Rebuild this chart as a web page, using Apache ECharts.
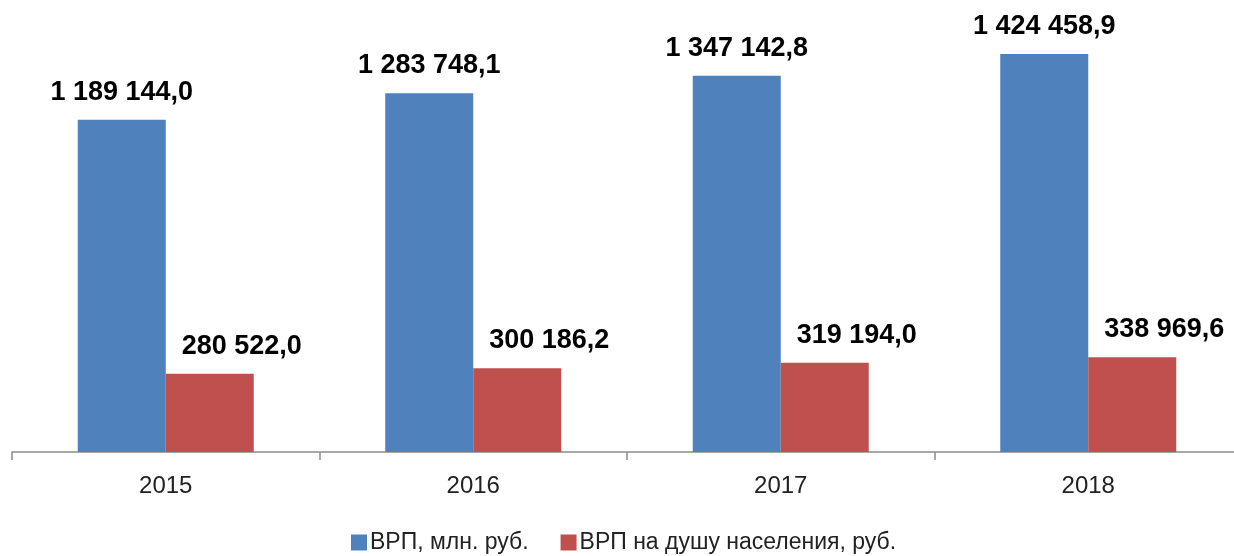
<!DOCTYPE html>
<html>
<head>
<meta charset="utf-8">
<script src="https://cdn.jsdelivr.net/npm/echarts@6/dist/echarts.min.js"></script>
<style>
  html, body { margin: 0; padding: 0; background: #fff; }
  #chart { width: 1234px; height: 556px; }
</style>
</head>
<body>
<div id="chart"></div>
<script>
const years = ['2015', '2016', '2017', '2018'];
const grpTotal = [1189144.0, 1283748.1, 1347142.8, 1424458.9];
const grpPerCapita = [280522.0, 300186.2, 319194.0, 338969.6];
const seriesNames = ['ВРП, млн. руб.', 'ВРП на душу населения, руб.'];

// 1 189 144,0 style
const fmt = (v) => {
  const parts = v.toFixed(1).split('.');
  return parts[0].replace(/\B(?=(\d{3})+(?!\d))/g, ' ') + ',' + parts[1];
};

const labelStyle = {
  show: true,
  position: 'top',
  distance: 14,
  fontFamily: 'Liberation Sans',
  fontWeight: 'bold',
  fontSize: 27,
  color: '#000',
  formatter: (p) => fmt(p.value),
};

const drawChart = (domElement) => {
  const chart = echarts.init(domElement);
  const option = {
    animation: false,
    grid: { left: 12, right: -8, top: 5, bottom: 104, outerBoundsMode: 'none', containLabel: false },
    legend: {
      top: 526,
      left: 346,
      itemWidth: 16,
      itemHeight: 16,
      itemGap: 32,
      icon: 'rect',
      textStyle: { fontFamily: 'Liberation Sans', fontSize: 23, color: '#222', padding: [0, 0, 0, -2] },
      data: seriesNames,
    },
    xAxis: {
      type: 'category',
      data: years,
      axisLine: { lineStyle: { color: '#8c8c8c', width: 1.5 } },
      axisTick: { show: true, length: 8, lineStyle: { color: '#8c8c8c', width: 1.5 } },
      axisLabel: { margin: 22, fontFamily: 'Liberation Sans', fontSize: 24, color: '#222' },
    },
    yAxis: {
      type: 'value',
      min: 0,
      max: 1600000,
      show: false,
      splitLine: { show: false },
    },
    series: [
      {
        name: seriesNames[0],
        type: 'bar',
        data: grpTotal,
        barWidth: 88,
        barGap: '0%',
        itemStyle: { color: '#4f81bd' },
        label: labelStyle,
      },
      {
        name: seriesNames[1],
        type: 'bar',
        data: grpPerCapita,
        barWidth: 88,
        itemStyle: { color: '#c0504d' },
        label: { ...labelStyle, offset: [32, 0] },
      },
    ],
  };
  chart.setOption(option);
};

drawChart(document.querySelector('#chart'));
</script>
</body>
</html>
